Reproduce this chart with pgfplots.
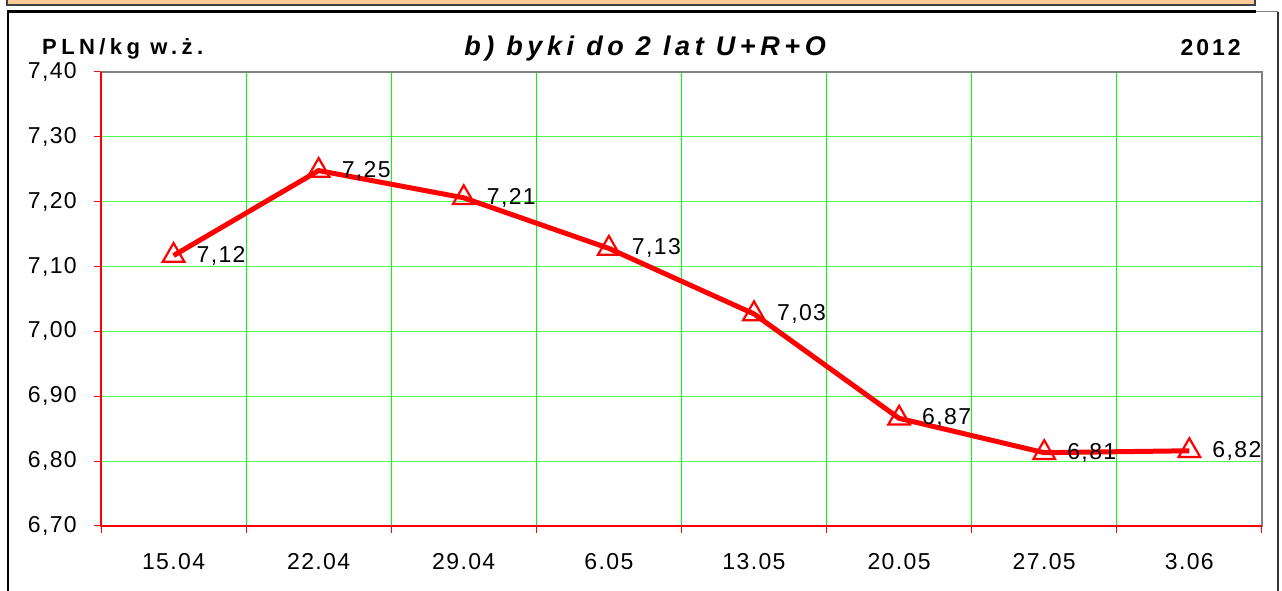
\documentclass[border=0pt]{standalone}
\usepackage{fontspec}
\setmainfont{Liberation Sans}
\newfontfamily\tickfont[LetterSpace=6]{Liberation Sans}
\newfontfamily\ttlfont[LetterSpace=17]{Liberation Sans}
\newfontfamily\unitfont[LetterSpace=20]{Liberation Sans}
\newfontfamily\yearfont[LetterSpace=13]{Liberation Sans}
\usepackage{pgfplots}
\usepackage{pgfplotstable}
\pgfplotsset{compat=1.18}
\definecolor{beige}{RGB}{255,204,153}
\definecolor{gridgreen}{RGB}{0,255,0}
\definecolor{lred}{RGB}{255,0,0}
\pgfplotstableread{
x y lab
0 7.117 7,12
1 7.248 7,25
2 7.206 7,21
3 7.128 7,13
4 7.027 7,03
5 6.866 6,87
6 6.813 6,81
7 6.816 6,82
}\datatable
\begin{document}
\begin{tikzpicture}[x=1pt,y=1pt]
\useasboundingbox (0,0) rectangle (1282,591);
% top beige bar
\draw[fill=beige, draw=black!75, line width=1.5pt] (7,586) rectangle (1255,596);
% frame
\draw[black, line width=3pt] (7,579.5) -- (1256,579.5);
\draw[gray, line width=1pt] (1256,579) -- (1278,579);
\draw[black, line width=2pt] (8,579) -- (8,-2);
\draw[black!80, line width=2pt] (1278,579) -- (1278,-2);
% texts
\node[anchor=base west, inner sep=0pt, font=\unitfont\bfseries\fontsize{22}{24}\selectfont] at (42,536) {PLN/kg w.ż.};
\node[anchor=base, inner sep=0pt, font=\ttlfont\bfseries\itshape\fontsize{27}{30}\selectfont] at (645,535.5) {b) byki do 2 lat U+R+O};
\node[anchor=base east, inner sep=0pt, font=\yearfont\bfseries\fontsize{23}{26}\selectfont] at (1241,535) {2012};
\begin{axis}[
  at={(101pt,65pt)}, anchor=south west,
  scale only axis, width=1161pt, height=454pt,
  xmin=-0.5, xmax=7.5, ymin=6.7, ymax=7.4,
  xtick={0,1,2,3,4,5,6,7},
  xticklabels={15.04,22.04,29.04,6.05,13.05,20.05,27.05,3.06},
  major x tick style={draw=none},
  minor xtick={-0.5,0.5,1.5,2.5,3.5,4.5,5.5,6.5,7.5},
  xminorgrids,
  minor x grid style={gridgreen, line width=1pt},
  minor x tick style={lred, line width=1pt},
  ytick={6.7,6.8,6.9,7.0,7.1,7.2,7.3,7.4},
  ymajorgrids,
  major y grid style={gridgreen!70!white, line width=1.2pt},
  y tick style={lred, line width=1pt},
  tick align=outside, tick pos=left,
  major tick length=7pt, minor tick length=7pt,
  axis line style={gray, line width=1.5pt},
  /pgf/number format/assume math mode=true,
  yticklabel style={/pgf/number format/.cd, use comma, fixed, fixed zerofill, precision=2, /tikz/.cd, anchor=east, inner sep=0pt, xshift=-17pt, font=\tickfont\fontsize{23}{25}\selectfont},
  xticklabel style={anchor=north, inner sep=0pt, yshift=-20pt, font=\tickfont\fontsize{23}{25}\selectfont},
  clip=false,
  nodes near coords,
  point meta=explicit symbolic,
  every node near coord/.append style={anchor=west, inner sep=0pt, xshift=22pt, yshift=0pt, font=\tickfont\fontsize{23}{25}\selectfont, text=black},
]
\addplot[lred, line width=5pt, mark=triangle, mark size=12.5pt, mark options={solid, line width=2.2pt, draw=lred}] table[x=x, y=y, meta=lab] {\datatable};
\draw[lred, line width=1.5pt] (rel axis cs:0,1) -- (rel axis cs:0,0) -- (rel axis cs:1,0);
\end{axis}
\end{tikzpicture}
\end{document}
